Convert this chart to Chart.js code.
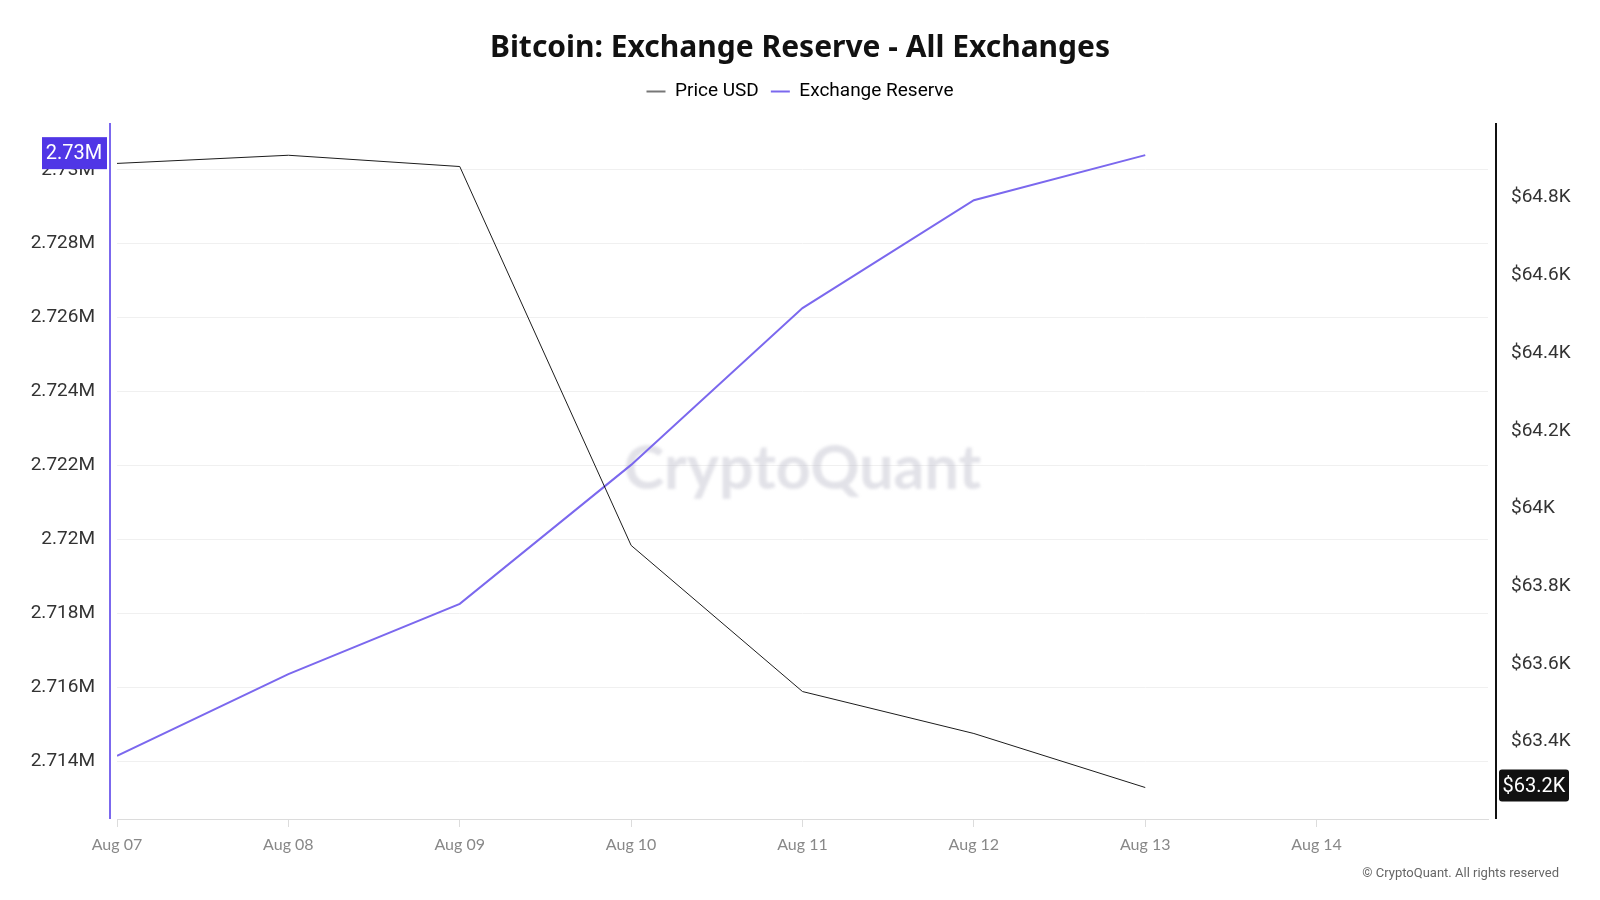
<!DOCTYPE html>
<html>
<head>
<meta charset="utf-8">
<title>Bitcoin: Exchange Reserve - All Exchanges</title>
<script src="https://cdn.jsdelivr.net/npm/chart.js@4.4.1/dist/chart.umd.min.js"></script>
<style>
  html, body { margin: 0; padding: 0; background: #fff; }
  canvas { display: block; }
</style>
</head>
<body>
<canvas id="reserveChart" width="1600" height="900"></canvas>
<script>
// values
const dayLabels = ["Aug 07", "Aug 08", "Aug 09", "Aug 10", "Aug 11", "Aug 12", "Aug 13", "Aug 14"];
const priceUsd = [64888, 64909, 64880, 63905, 63529, 63421, 63282];
const exchangeReserve = [2714144, 2716355, 2718257, 2722016, 2726260, 2729176, 2730396];
const reserveTicks = [2714000, 2716000, 2718000, 2720000, 2722000, 2724000, 2726000, 2728000, 2730000];
const priceTicks = [63400, 63600, 63800, 64000, 64200, 64400, 64600, 64800];

const purple = "#7b68ee";
const fmtReserve = v => parseFloat((v / 1e6).toFixed(3)) + "M";
const fmtPrice = v => "$" + parseFloat((v / 1000).toFixed(1)) + "K";

const decor = {
    id: "decor",
    beforeLayout(chart) {
        // leave a gap under the legend, like the original
        const lg = chart.legend;
        if (lg && !lg._gapPatched) {
            const fit = lg.fit.bind(lg);
            lg.fit = function () { fit(); this.height += 12; };
            lg._gapPatched = true;
        }
    },
    beforeDatasetsDraw(chart) {
        const ctx = chart.ctx;
        const a = chart.chartArea;
        ctx.save();
        ctx.filter = "blur(1.5px)";
        ctx.fillStyle = "rgba(185,185,200,0.42)";
        ctx.font = "bold 61px Lato";
        ctx.textAlign = "center";
        ctx.textBaseline = "alphabetic";
        ctx.fillText("CryptoQuant", (a.left + a.right) / 2, 489);
        ctx.restore();
    },
    afterDraw(chart) {
        const ctx = chart.ctx;
        const a = chart.chartArea;
        const yl = chart.scales.yReserve;
        const yr = chart.scales.yPrice;
        ctx.save();
        // axis lines
        ctx.lineWidth = 2;
        ctx.strokeStyle = purple;
        ctx.beginPath();
        ctx.moveTo(a.left - 7, a.top);
        ctx.lineTo(a.left - 7, a.bottom);
        ctx.stroke();
        ctx.strokeStyle = "#111";
        ctx.beginPath();
        ctx.moveTo(a.right + 8, a.top);
        ctx.lineTo(a.right + 8, a.bottom);
        ctx.stroke();

        // last value badges
        ctx.font = "20px Roboto";
        ctx.textBaseline = "middle";
        ctx.textAlign = "center";
        const lastR = exchangeReserve[exchangeReserve.length - 1];
        let y = yl.getPixelForValue(lastR) - 2;
        ctx.fillStyle = "#5036e6";
        ctx.fillRect(42, y - 16, 65, 32);
        ctx.fillStyle = "#fff";
        ctx.fillText((Math.floor(lastR / 1e4) / 100) + "M", 74, y + 1);

        const lastP = priceUsd[priceUsd.length - 1];
        y = yr.getPixelForValue(lastP) - 2;
        ctx.fillStyle = "#111";
        ctx.beginPath();
        ctx.roundRect(a.right + 11, y - 16, 70, 32, 3);
        ctx.fill();
        ctx.fillStyle = "#fff";
        ctx.fillText("$" + (Math.floor(lastP / 100) / 10) + "K", a.right + 46, y + 1);

        // footer
        ctx.font = "13px Roboto";
        ctx.fillStyle = "#666";
        ctx.textAlign = "right";
        ctx.fillText("\u00a9 CryptoQuant. All rights reserved", 1559, 874);
        ctx.restore();
    }
};

const chart = new Chart(document.getElementById("reserveChart"), {
    type: "line",
    data: {
        datasets: [
            {
                label: "Price USD",
                data: priceUsd.map((v, i) => ({ x: i, y: v })),
                yAxisID: "yPrice",
                borderColor: "#1c1c1c",
                backgroundColor: "#1c1c1c",
                legendColor: "#777",
                borderWidth: 1,
                pointRadius: 0,
                tension: 0
            },
            {
                label: "Exchange Reserve",
                data: exchangeReserve.map((v, i) => ({ x: i, y: v })),
                yAxisID: "yReserve",
                borderColor: purple,
                backgroundColor: purple,
                legendColor: purple,
                borderWidth: 2,
                pointRadius: 0,
                tension: 0
            }
        ]
    },
    options: {
        responsive: false,
        animation: false,
        devicePixelRatio: 1,
        layout: { padding: 0 },
        plugins: {
            tooltip: { enabled: false },
            title: {
                display: true,
                text: "Bitcoin: Exchange Reserve - All Exchanges",
                color: "#111",
                font: { family: "Noto Sans", size: 30, weight: "bold" },
                padding: { top: 30, bottom: 4 }
            },
            legend: {
                display: true,
                labels: {
                    color: "#333",
                    font: { family: "Roboto", size: 19 },
                    boxWidth: 19,
                    boxHeight: 2,
                    padding: 12,
                    generateLabels: c => c.data.datasets.map((ds, i) => ({
                        text: ds.label,
                        fillStyle: ds.legendColor,
                        strokeStyle: ds.legendColor,
                        lineWidth: 0,
                        hidden: false,
                        datasetIndex: i
                    }))
                }
            }
        },
        scales: {
            x: {
                type: "linear",
                position: "bottom",
                min: 0,
                max: 8,
                afterBuildTicks: s => { s.ticks = dayLabels.map((_, i) => ({ value: i })); },
                afterFit: s => { s.height = 81; },
                ticks: {
                    callback: v => dayLabels[v],
                    color: "#888",
                    font: { family: "Lato", size: 16 },
                    padding: 8,
                    maxRotation: 0,
                    autoSkip: false
                },
                grid: { drawOnChartArea: false, drawTicks: true, tickLength: 8, color: "#dcdcdc" },
                border: { display: true, color: "#dcdcdc" }
            },
            yReserve: {
                type: "linear",
                position: "left",
                min: 2712436,
                max: 2731266,
                afterBuildTicks: s => { s.ticks = reserveTicks.map(v => ({ value: v })); },
                afterFit: s => { s.width = 117; },
                ticks: {
                    callback: v => fmtReserve(v),
                    color: "#333",
                    font: { family: "Roboto", size: 19 },
                    padding: 22
                },
                grid: { color: "#f0f0f0", drawTicks: false },
                border: { display: false }
            },
            yPrice: {
                type: "linear",
                position: "right",
                min: 63201,
                max: 64992,
                afterBuildTicks: s => { s.ticks = priceTicks.map(v => ({ value: v })); },
                afterFit: s => { s.width = 112; },
                ticks: {
                    callback: v => fmtPrice(v),
                    color: "#333",
                    font: { family: "Roboto", size: 19 },
                    padding: 23
                },
                grid: { drawOnChartArea: false, drawTicks: false },
                border: { display: false }
            }
        }
    },
    plugins: [decor]
});
</script>
</body>
</html>
